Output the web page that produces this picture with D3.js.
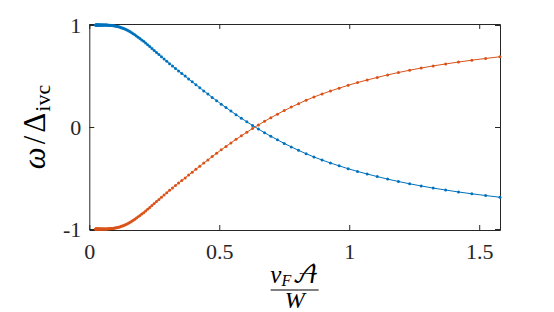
<!DOCTYPE html>
<html lang="en">
<head>
<meta charset="UTF-8">
<title>omega / Delta_ivc</title>
<script src="https://cdn.jsdelivr.net/npm/d3@7"></script>
<style>
  body { margin: 0; background: #fff; }
  svg text { font-family: "Liberation Serif", "Times New Roman", "DejaVu Serif", serif; }
  .tick text { font-size: 22px; fill: #262626; }
  .axis path, .axis line { stroke: #262626; }
</style>
</head>
<body>
<script>
// x = v_F A / W  (log-spaced samples)
var xVals = [
  0.02400, 0.02487, 0.02576, 0.02669, 0.02766, 0.02866, 0.02969, 0.03076, 0.03187, 0.03302,
  0.03422, 0.03545, 0.03673, 0.03806, 0.03943, 0.04085, 0.04233, 0.04386, 0.04544, 0.04708,
  0.04878, 0.05054, 0.05237, 0.05426, 0.05622, 0.05825, 0.06035, 0.06253, 0.06479, 0.06713,
  0.06955, 0.0721, 0.0747, 0.0774, 0.0802, 0.0831, 0.0861, 0.0892, 0.0924, 0.0957,
  0.0992, 0.1028, 0.1065, 0.1104, 0.1143, 0.1185, 0.1227, 0.1272, 0.1318, 0.1365,
  0.1415, 0.1466, 0.1519, 0.1574, 0.1630, 0.1689, 0.1750, 0.1813, 0.1879, 0.1947,
  0.2017, 0.2090, 0.2166, 0.2244, 0.2325, 0.2409, 0.2496, 0.2586, 0.2679, 0.2776,
  0.2877, 0.2981, 0.3088, 0.3200, 0.3315, 0.3435, 0.3559, 0.3688, 0.3821, 0.3959,
  0.4102, 0.4250, 0.4404, 0.4563, 0.4728, 0.4898, 0.5075, 0.5259, 0.5449, 0.5645,
  0.5850, 0.6061, 0.6280, 0.6507, 0.6742, 0.6985, 0.7237, 0.7499, 0.7769, 0.8050,
  0.8341, 0.8642, 0.8954, 0.9277, 0.9612, 0.9959, 1.0319, 1.0691, 1.1077, 1.1477,
  1.1892, 1.2324, 1.2769, 1.3230, 1.3708, 1.4203, 1.4716, 1.5247, 1.5798
];

// upper branch (blue)
var blueVals = [
  1, 1, 1, 1, 1, 1, 1, 1, 1, 1,
  1, 1, 1, 1, 1, 1, 1, 1, 1, 1,
  1, 1, 1, 1, 1, 0.999, 0.999, 0.999, 0.999, 0.999,
  0.999, 0.998, 0.998, 0.998, 0.997, 0.996, 0.996, 0.995, 0.994, 0.992,
  0.991, 0.989, 0.987, 0.984, 0.982, 0.978, 0.974, 0.970, 0.966, 0.960,
  0.955, 0.949, 0.941, 0.934, 0.925, 0.915, 0.905, 0.893, 0.881, 0.868,
  0.854, 0.840, 0.824, 0.807, 0.789, 0.770, 0.751, 0.730, 0.710, 0.688,
  0.667, 0.644, 0.621, 0.598, 0.574, 0.550, 0.525, 0.499, 0.471, 0.443,
  0.414, 0.385, 0.354, 0.323, 0.290, 0.258, 0.224, 0.190, 0.156, 0.121,
  0.086, 0.051, 0.015, -0.020, -0.056, -0.091, -0.126, -0.161, -0.195, -0.229,
  -0.262, -0.294, -0.324, -0.353, -0.381, -0.409, -0.436, -0.461, -0.486, -0.511,
  -0.534, -0.557, -0.578, -0.599, -0.618, -0.637, -0.655, -0.672, -0.689
];

// lower branch (orange)
var orangeVals = [
  -1, -1, -1, -1, -1, -1, -1, -1, -1, -1,
  -1, -1, -1, -1, -1, -1, -1, -1, -1, -1,
  -1, -1, -1, -1, -1, -0.999, -0.999, -0.999, -0.999, -0.999,
  -0.999, -0.998, -0.998, -0.998, -0.997, -0.996, -0.996, -0.995, -0.994, -0.992,
  -0.991, -0.989, -0.987, -0.984, -0.982, -0.978, -0.974, -0.970, -0.966, -0.960,
  -0.955, -0.949, -0.941, -0.934, -0.925, -0.915, -0.905, -0.893, -0.881, -0.868,
  -0.854, -0.840, -0.824, -0.807, -0.789, -0.770, -0.751, -0.730, -0.710, -0.688,
  -0.667, -0.644, -0.621, -0.598, -0.574, -0.550, -0.525, -0.499, -0.471, -0.443,
  -0.414, -0.385, -0.354, -0.323, -0.290, -0.258, -0.224, -0.190, -0.156, -0.121,
  -0.086, -0.051, -0.015, 0.020, 0.056, 0.091, 0.126, 0.161, 0.195, 0.229,
  0.262, 0.294, 0.324, 0.353, 0.381, 0.409, 0.436, 0.461, 0.486, 0.511,
  0.534, 0.557, 0.578, 0.599, 0.618, 0.637, 0.655, 0.672, 0.689
];

var xTicks = [0, 0.5, 1, 1.5];
var xTickLabels = ["0", "0.5", "1", "1.5"];
var yTicks = [-1, 0, 1];
var yTickLabels = ["-1", "0", "1"];

var w = 554, h = 312;
var padL = 89.3, padR = 500, padT = 24, padB = 230;

var svg = d3.select("body").append("svg")
    .attr("width", w)
    .attr("height", h);

var xScale = d3.scaleLinear().domain([0, 1.58]).range([padL, padR]);
var yScale = d3.scaleLinear().domain([-1.01, 1.01]).range([padB, padT]);

// axes, MATLAB style: ticks inside, box on
svg.append("g")
    .attr("class", "axis")
    .attr("transform", "translate(0," + padB + ")")
    .call(d3.axisBottom(xScale).tickValues(xTicks)
        .tickFormat(function(d, i) { return xTickLabels[i]; })
        .tickSizeInner(-5).tickSizeOuter(0).tickPadding(13));

svg.append("g")
    .attr("class", "axis")
    .attr("transform", "translate(0," + padT + ")")
    .call(d3.axisTop(xScale).tickValues(xTicks).tickFormat("")
        .tickSizeInner(-5).tickSizeOuter(0));

svg.append("g")
    .attr("class", "axis")
    .attr("transform", "translate(" + padL + ",0)")
    .call(d3.axisLeft(yScale).tickValues(yTicks)
        .tickFormat(function(d, i) { return yTickLabels[i]; })
        .tickSizeInner(-5).tickSizeOuter(0).tickPadding(8));

svg.append("g")
    .attr("class", "axis")
    .attr("transform", "translate(" + padR + ",0)")
    .call(d3.axisRight(yScale).tickValues(yTicks).tickFormat("")
        .tickSizeInner(-5).tickSizeOuter(0));

svg.selectAll(".axis .domain").attr("stroke-width", 1);

// curves
var series = [
  { vals: blueVals, color: "#0072BD" },
  { vals: orangeVals, color: "#D95319" }
];

var line = d3.line()
    .x(function(d) { return xScale(d[0]); })
    .y(function(d) { return yScale(d[1]); });

series.forEach(function(s) {
  var pts = xVals.map(function(x, i) { return [x, s.vals[i]]; });
  svg.append("path")
      .datum(pts)
      .attr("d", line)
      .attr("fill", "none")
      .attr("stroke", s.color)
      .attr("stroke-width", 1);
  svg.append("g").selectAll("circle")
      .data(pts)
      .enter()
      .append("circle")
      .attr("cx", function(d) { return xScale(d[0]); })
      .attr("cy", function(d) { return yScale(d[1]); })
      .attr("r", 1.5)
      .attr("fill", s.color);
});

// y label: omega / Delta_ivc
var ylab = svg.append("text")
    .attr("transform", "translate(45," + (padT + padB) / 2 + ") rotate(-90)")
    .attr("text-anchor", "middle")
    .attr("font-size", 31)
    .attr("fill", "#000");
ylab.append("tspan").attr("font-style", "italic").text("ω");
ylab.append("tspan").attr("dx", 3).text("/");
ylab.append("tspan").attr("dx", 3).text("Δ");
ylab.append("tspan").attr("font-size", 22).attr("dy", 5).attr("dx", 1).text("ivc");

// x label: v_F A / W
var cx = (padL + padR) / 2;
var num = svg.append("text")
    .attr("x", cx)
    .attr("y", 283)
    .attr("text-anchor", "middle")
    .attr("font-size", 25)
    .attr("font-style", "italic")
    .attr("fill", "#000");
num.append("tspan").text("v");
num.append("tspan").attr("font-size", 16).attr("dy", 3).text("F");
num.append("tspan").attr("dy", -3).attr("dx", 1).style("font-family", "'DejaVu Math TeX Gyre', 'DejaVu Serif', serif").attr("font-style", "normal").text("𝒜");

svg.append("line")
    .attr("x1", cx - 24).attr("x2", cx + 24)
    .attr("y1", 290).attr("y2", 290)
    .attr("stroke", "#000")
    .attr("stroke-width", 1);

svg.append("text")
    .attr("x", cx)
    .attr("y", 308)
    .attr("text-anchor", "middle")
    .attr("font-size", 24)
    .attr("font-style", "italic")
    .attr("fill", "#000")
    .text("W");
</script>
</body>
</html>
